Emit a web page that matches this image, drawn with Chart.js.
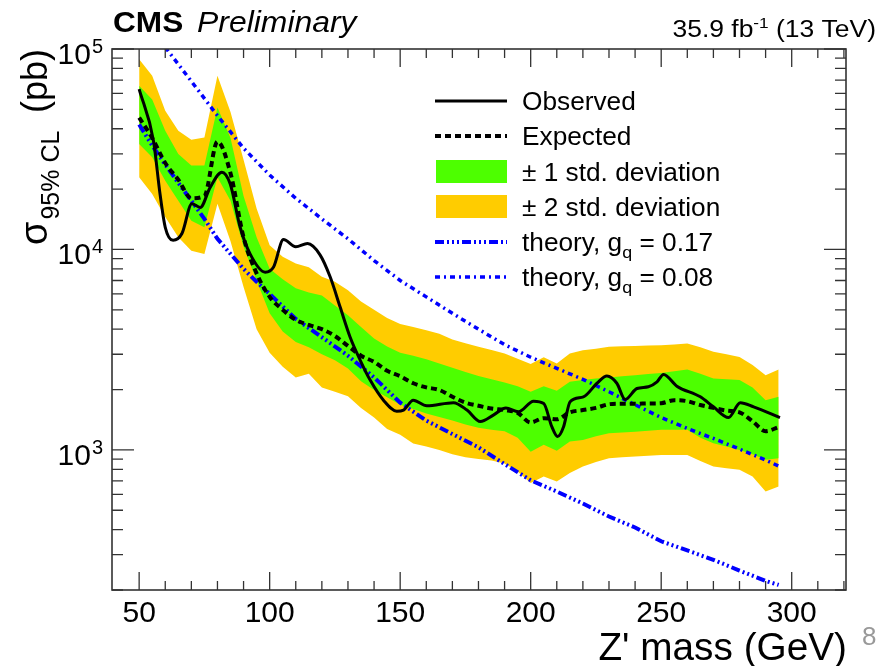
<!DOCTYPE html>
<html><head><meta charset="utf-8">
<script src="https://cdn.jsdelivr.net/npm/chart.js@4"></script>
<style>html,body{margin:0;padding:0;background:#fff;}#wrap{position:relative;width:889px;height:666px;}</style>
</head><body><div id="wrap"><canvas id="c" width="889" height="666"></canvas></div>
<script>
// ---- data ----
const mass = [50,55,60,65,70,75,80,85,90,95,100,105,110,115,120,125,130,135,140,145,150,155,160,165,170,175,180,185,190,195,200,205,210,215,220,225,230,235,240,245,250,255,260,265,270,275,280,285,290,295];
const expected = [45500,36000,27000,22300,18000,18500,34500,24000,11500,7600,5800,5000,4450,4200,4000,3700,3300,2950,2750,2480,2330,2150,2050,1990,1840,1720,1660,1610,1580,1530,1370,1440,1420,1540,1580,1620,1690,1700,1700,1705,1710,1770,1750,1675,1620,1570,1540,1390,1240,1300];
const band1Up = [65500,56000,39100,29900,26200,26200,51000,36000,18500,11500,8000,7100,6400,6100,5900,5250,4700,4100,3600,3280,3050,2950,2830,2700,2570,2450,2340,2250,2170,2080,1950,2080,1970,2190,2230,2270,2300,2330,2360,2390,2420,2470,2520,2400,2270,2250,2230,2050,1770,1840];
const band1Down = [33600,28800,22000,17500,13900,12900,22900,17500,10300,7000,4800,3900,3450,3250,3000,2800,2550,2200,1990,1830,1680,1600,1520,1460,1400,1340,1290,1260,1240,1150,980,1060,990,1100,1120,1170,1210,1220,1230,1245,1260,1260,1260,1150,1080,1040,1000,950,892,909];
const band2Up = [88900,73500,49200,39100,35300,36200,73500,48500,28000,16000,10500,9200,8500,8150,7300,6900,6250,5500,5000,4550,4250,4100,3950,3800,3550,3400,3270,3150,3030,2850,2680,2900,2700,3030,3140,3200,3270,3290,3300,3320,3330,3360,3390,3250,3085,3000,2910,2650,2360,2520];
const band2Down = [22900,18900,14500,11500,9850,9500,16900,11000,6500,4000,3050,2600,2300,2400,2050,1950,1850,1620,1450,1270,1190,1075,1040,1000,950,920,900,885,855,780,683,737,696,766,826,870,909,920,927,935,944,944,944,880,826,810,795,737,620,657];
const obsMass = [50,55.5,58,60,63,66.4,70.2,73.4,77.2,81.7,84.9,88.7,92.5,98.3,101.5,105.3,110,114.5,119.3,123.2,127,130.8,134.7,138.5,143.6,148.7,151.3,155,160.2,170.4,175.6,180.7,185.7,190.5,195.3,201.1,205,208.1,210.3,212.6,215.1,220.2,225.4,229.2,233,236.2,240.7,245.1,248.4,250.9,256,265,270,275.8,280.3,285.4,295.5];
const observed = [63000,34800,18900,12900,11100,12000,16900,16200,20400,24300,21200,12900,9500,7700,8170,11200,10300,10700,9400,7280,5160,3660,2800,2230,1770,1560,1580,1770,1660,1720,1580,1385,1490,1620,1550,1750,1705,1305,1165,1305,1740,1840,2150,2335,2150,1785,2025,2065,2185,2380,2080,1840,1640,1450,1720,1640,1450];
// theory curves (styles follow the reference legend)
const theoryMassA = [50,55,60,65,70,75,80,85,90,95,100,110,120,130,140,150,160,170,180,190,200,210,220,230,240,250,260,270,280,290,295];
const theoryA = [42000,33000,26500,21500,17500,14200,11300,9500,8000,6900,6000,4500,3650,2950,2300,1720,1400,1200,1030,850,705,620,540,465,410,350,315,283,250,222,212];
const theoryMassB = [60,70,80,90,100,110,120,130,140,150,160,170,180,190,200,210,220,230,240,250,260,270,280,290,295];
const theoryB = [102000,69000,46500,32000,23500,18000,14200,11300,8800,7000,5800,4800,4000,3350,2900,2550,2250,1950,1680,1450,1280,1140,1010,890,830];
const xTickLabels = [50,100,150,200,250,300];
const yTickLabels = [1000,10000,100000];
const legendLabels = ['Observed','Expected','\u00b1 1 std. deviation','\u00b1 2 std. deviation','theory, g_q = 0.17','theory, g_q = 0.08'];

const GREEN = '#4dff00', ORANGE = '#ffcc00', BLUE = '#0000ff';
const pts = (xs, ys) => xs.map((x, i) => ({x: x, y: ys[i]}));
const FONT = '"Liberation Sans", Arial, Helvetica, sans-serif';

// draw text with horizontal stretch sx; returns drawn width
function txt(ctx, s, x, y, font, sx, align) {
  ctx.save();
  ctx.font = font; ctx.textAlign = 'left';
  const w = ctx.measureText(s).width * sx;
  let x0 = x;
  if (align === 'right') x0 = x - w; else if (align === 'center') x0 = x - w / 2;
  ctx.translate(x0, y); ctx.scale(sx, 1);
  ctx.fillText(s, 0, 0);
  ctx.restore();
  return w;
}
function tw(ctx, s, font, sx) { ctx.save(); ctx.font = font; const w = ctx.measureText(s).width * sx; ctx.restore(); return w; }

const decor = {
  id: 'decor',
  afterDraw(chart) {
    const ctx = chart.ctx, a = chart.chartArea, xs = chart.scales.x, ys = chart.scales.y;
    ctx.save();
    // frame
    ctx.strokeStyle = '#333'; ctx.lineWidth = 1.6;
    ctx.strokeRect(a.left, a.top, a.right - a.left, a.bottom - a.top);
    // x ticks (inward, bottom and top)
    ctx.lineWidth = 1.3;
    ctx.beginPath();
    for (let v = 50; v <= 320; v += 10) {
      const p = xs.getPixelForValue(v);
      if (p <= a.left + 1 || p >= a.right - 1) continue;
      const L = (v % 50 === 0) ? 18 : 9;
      ctx.moveTo(p, a.bottom); ctx.lineTo(p, a.bottom - L);
      ctx.moveTo(p, a.top); ctx.lineTo(p, a.top + L);
    }
    // y ticks (inward, left and right)
    for (let d = 100; d <= 100000; d *= 10) {
      for (let k = 1; k <= 9; k++) {
        const v = k * d;
        if (v < 200 || v > 100000) continue;
        const p = ys.getPixelForValue(v);
        const L = (k === 1) ? 22 : 11;
        ctx.moveTo(a.left, p); ctx.lineTo(a.left + L, p);
        ctx.moveTo(a.right, p); ctx.lineTo(a.right - L, p);
      }
    }
    ctx.stroke();
    ctx.fillStyle = '#000'; ctx.textBaseline = 'alphabetic';
    // x tick labels
    xTickLabels.forEach(v => txt(ctx, String(v), xs.getPixelForValue(v), 622, '30px ' + FONT, 1, 'center'));
    // y tick labels 10^n
    yTickLabels.forEach(v => {
      const p = ys.getPixelForValue(v);
      const e = String(Math.round(Math.log10(v)));
      const ew = txt(ctx, e, 103, p + 4, '20px ' + FONT, 1, 'right');
      txt(ctx, '10', 103 - ew - 1, p + 15, '30px ' + FONT, 1, 'right');
    });
    // axis titles
    txt(ctx, "Z' mass (GeV)", 847, 660, '38px ' + FONT, 1.02, 'right');
    ctx.save();
    ctx.translate(47, 245); ctx.rotate(-Math.PI / 2);
    const sw0 = txt(ctx, '\u03c3', 0, 0, '38px ' + FONT, 1, 'left');
    txt(ctx, '95% CL', sw0 + 2, 12, '25px ' + FONT, 1, 'left');
    txt(ctx, '(pb)', 196, 0, '36px ' + FONT, 1, 'right');
    ctx.restore();
    // header
    const cmsW = txt(ctx, 'CMS', 113, 32, 'bold 29px ' + FONT, 1.09, 'left');
    txt(ctx, 'Preliminary', 197, 32, 'italic 29px ' + FONT, 1.1, 'left');
    // lumi
    const LF = '23px ' + FONT, SF = '15px ' + FONT, LS = 1.15;
    let xr = 876;
    xr -= txt(ctx, ' (13 TeV)', xr, 37, LF, LS, 'right');
    xr -= txt(ctx, '-1', xr, 28, SF, LS, 'right');
    txt(ctx, '35.9 fb', xr, 37, LF, LS, 'right');
    // page number
    ctx.fillStyle = '#999';
    txt(ctx, '8', 862, 645, '26px ' + FONT, 1, 'left');
    // legend
    const rows = [101, 136, 172, 207, 242, 277];
    const x0 = 435, x1 = 507, tx = 522;
    ctx.lineCap = 'butt';
    ctx.strokeStyle = '#000'; ctx.lineWidth = 3; ctx.setLineDash([]);
    ctx.beginPath(); ctx.moveTo(x0, rows[0]); ctx.lineTo(x1, rows[0]); ctx.stroke();
    ctx.lineWidth = 4; ctx.setLineDash([6, 4]);
    ctx.beginPath(); ctx.moveTo(x0, rows[1]); ctx.lineTo(x1, rows[1]); ctx.stroke();
    ctx.setLineDash([]);
    ctx.fillStyle = GREEN; ctx.fillRect(436, rows[2] - 12, 71, 23);
    ctx.fillStyle = ORANGE; ctx.fillRect(436, rows[3] - 12, 71, 23);
    ctx.strokeStyle = BLUE; ctx.lineWidth = 4; ctx.setLineDash([9, 3, 2, 3, 2, 3, 2, 3]);
    ctx.beginPath(); ctx.moveTo(x0, rows[4]); ctx.lineTo(x1, rows[4]); ctx.stroke();
    ctx.lineWidth = 3.5; ctx.setLineDash([5, 4, 2, 4]);
    ctx.beginPath(); ctx.moveTo(x0, rows[5]); ctx.lineTo(x1, rows[5]); ctx.stroke();
    ctx.setLineDash([]);
    ctx.fillStyle = '#000';
    const LEG = '25px ' + FONT, LSX = 1.05;
    legendLabels.forEach((lab, i) => {
      const y = rows[i] + 9;
      const parts = lab.split('_q');
      let xx = tx + txt(ctx, parts[0], tx, y, LEG, LSX, 'left');
      if (parts.length > 1) {
        xx += txt(ctx, 'q', xx, y + 7, '17px ' + FONT, LSX, 'left');
        txt(ctx, parts[1], xx, y, LEG, LSX, 'left');
      }
    });
    ctx.restore();
  }
};

new Chart(document.getElementById('c'), {
  type: 'line',
  data: {
    datasets: [
      {label: 'Observed', data: pts(obsMass, observed), borderColor: '#000', borderWidth: 3, pointRadius: 0, fill: false, cubicInterpolationMode: 'monotone'},
      {label: 'Expected', data: pts(mass, expected), borderColor: '#000', borderWidth: 4, borderDash: [6, 4], pointRadius: 0, fill: false, cubicInterpolationMode: 'monotone'},
      {label: 'theory, gq = 0.17', data: pts(theoryMassA, theoryA), borderColor: BLUE, borderWidth: 4, borderDash: [9, 3, 2, 3, 2, 3, 2, 3], pointRadius: 0, fill: false, tension: 0},
      {label: 'theory, gq = 0.08', data: pts(theoryMassB, theoryB), borderColor: BLUE, borderWidth: 3.5, borderDash: [5, 4, 2, 4], pointRadius: 0, fill: false, tension: 0},
      {label: '+1 sigma', data: pts(mass, band1Up), borderWidth: 0, borderColor: 'rgba(0,0,0,0)', backgroundColor: GREEN, pointRadius: 0, fill: '+1', tension: 0},
      {label: '-1 sigma', data: pts(mass, band1Down), borderWidth: 0, borderColor: 'rgba(0,0,0,0)', pointRadius: 0, fill: false, tension: 0},
      {label: '+2 sigma', data: pts(mass, band2Up), borderWidth: 0, borderColor: 'rgba(0,0,0,0)', backgroundColor: ORANGE, pointRadius: 0, fill: '+1', tension: 0},
      {label: '-2 sigma', data: pts(mass, band2Down), borderWidth: 0, borderColor: 'rgba(0,0,0,0)', pointRadius: 0, fill: false, tension: 0}
    ]
  },
  options: {
    responsive: false, devicePixelRatio: 1, animation: false,
    layout: {padding: {left: 112, top: 49, right: 43, bottom: 76}},
    plugins: {legend: {display: false}, tooltip: {enabled: false}},
    scales: {
      x: {type: 'linear', min: 39.6, max: 320.8, display: false},
      y: {type: 'logarithmic', min: 200, max: 100000, display: false}
    }
  },
  plugins: [decor]
});
</script></body></html>
